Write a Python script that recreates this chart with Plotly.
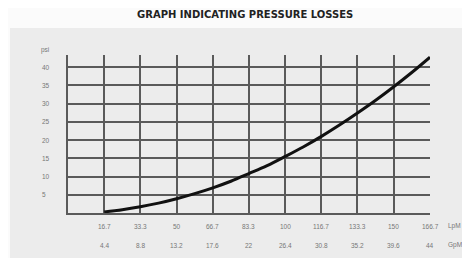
import plotly.graph_objects as go

# Data
lpm_ticks = [16.7, 33.3, 50, 66.7, 83.3, 100, 116.7, 133.3, 150, 166.7]
lpm_labels = ["16.7", "33.3", "50", "66.7", "83.3", "100", "116.7", "133.3", "150", "166.7"]
gpm_labels = ["4.4", "8.8", "13.2", "17.6", "22", "26.4", "30.8", "35.2", "39.6", "44"]
psi_ticks = [5, 10, 15, 20, 25, 30, 35, 40]
psi_labels = ["5", "10", "15", "20", "25", "30", "35", "40"]

# Pressure-loss curve (LpM vs psi)
curve_flow = [16.7, 25, 33.3, 41.7, 50, 58.3, 66.7, 75, 83.3, 91.7, 100, 108.3, 116.7, 125, 133.3, 141.7, 150, 158.3, 166.7]
curve_psi = [0.3, 0.9, 1.7, 2.7, 3.9, 5.3, 6.9, 8.7, 10.8, 13.0, 15.5, 18.1, 21.0, 24.1, 27.4, 30.9, 34.6, 38.5, 42.7]

title_text = "GRAPH INDICATING PRESSURE LOSSES"

# page body has an 8px margin; figure is placed at (8, 8)
OFF = 8
W, H = 470 - OFF, 258 - OFF
# target plot area in window pixels: x 68..430, y 55..213
ml = 68 - OFF
mr = 470 - 430
mt = 55 - OFF
mb = 258 - 213
pw, ph = W - ml - mr, H - mt - mb

def px_x(px):
    return (px - OFF - ml) / pw

def px_y(py):
    return (H - mb - (py - OFF)) / ph

grid_col = "#5a5a5a"
lab_col = "#777777"
font_fam = "Liberation Sans"

fig = go.Figure()
fig.add_trace(go.Scatter(x=curve_flow, y=curve_psi, mode="lines",
                         line=dict(color="#111111", width=3, shape="spline"),
                         hoverinfo="skip", showlegend=False))

annotations = []
for v, t1, t2 in zip(lpm_ticks, lpm_labels, gpm_labels):
    annotations.append(dict(x=v, y=px_y(226), xref="x", yref="paper", text=t1,
                            showarrow=False, xanchor="center", yanchor="middle",
                            font=dict(size=6.5, color=lab_col, family=font_fam)))
    annotations.append(dict(x=v, y=px_y(245), xref="x", yref="paper", text=t2,
                            showarrow=False, xanchor="center", yanchor="middle",
                            font=dict(size=6.5, color=lab_col, family=font_fam)))
annotations.append(dict(x=px_x(446), y=px_y(226), xref="paper", yref="paper", text="LpM",
                        showarrow=False, xanchor="left", yanchor="middle",
                        font=dict(size=6.5, color=lab_col, family=font_fam)))
annotations.append(dict(x=px_x(446), y=px_y(245), xref="paper", yref="paper", text="GpM",
                        showarrow=False, xanchor="left", yanchor="middle",
                        font=dict(size=6.5, color=lab_col, family=font_fam)))
for v, t in zip(psi_ticks, psi_labels):
    annotations.append(dict(x=px_x(40), y=v, xref="paper", yref="y", text=t,
                            showarrow=False, xanchor="left", yanchor="middle",
                            font=dict(size=6.5, color=lab_col, family=font_fam)))
annotations.append(dict(x=px_x(39), y=px_y(50), xref="paper", yref="paper", text="psi",
                        showarrow=False, xanchor="left", yanchor="middle",
                        font=dict(size=6.5, color=lab_col, family=font_fam)))
annotations.append(dict(x=px_x(245), y=px_y(14.5), xref="paper", yref="paper",
                        text="<b>" + title_text + "</b>",
                        showarrow=False, xanchor="center", yanchor="middle",
                        borderpad=0,
                        font=dict(size=10, color="#222222", family="DejaVu Sans")))

fig.update_layout(
    width=W, height=H,
    margin=dict(l=ml, r=mr, t=mt, b=mb),
    paper_bgcolor="#fbfbfb",
    plot_bgcolor="rgba(0,0,0,0)",
    showlegend=False,
    annotations=annotations,
    shapes=[dict(type="rect", xref="paper", yref="paper",
                 x0=px_x(10), x1=px_x(462), y0=px_y(262), y1=px_y(28),
                 fillcolor="#ececec", line=dict(width=0), layer="below")],
    xaxis=dict(range=[0, 166.7], tickvals=lpm_ticks, showticklabels=False,
               showgrid=True, gridcolor=grid_col, gridwidth=1.5,
               showline=True, linecolor=grid_col, linewidth=2,
               zeroline=False, ticks="", fixedrange=True),
    yaxis=dict(range=[0, 43.3], tickvals=psi_ticks, showticklabels=False,
               showgrid=True, gridcolor=grid_col, gridwidth=1.5,
               showline=True, linecolor=grid_col, linewidth=2,
               zeroline=False, ticks="", fixedrange=True),
)

fig.write_html("out.html")
